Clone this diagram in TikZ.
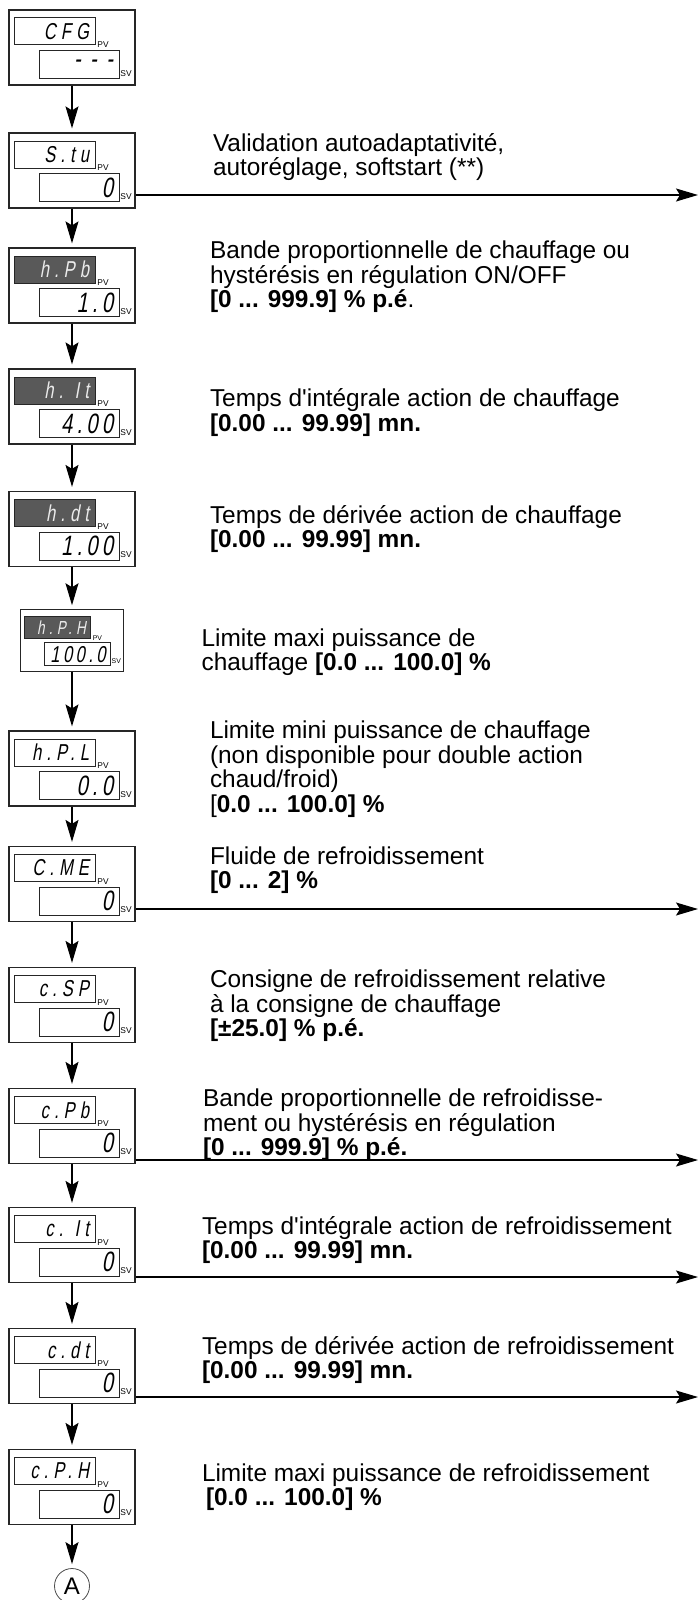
\documentclass[tikz,border=0pt]{standalone}
\usepackage{fontspec}
\setmainfont{Liberation Sans}
\newfontfamily\segfont{Liberation Sans}[FakeSlant=0.18, FakeStretch=0.72, LetterSpace=15]
\newfontfamily\pvfont{Liberation Sans}[FakeSlant=0.18, FakeStretch=0.72, LetterSpace=22]
\usetikzlibrary{arrows.meta, positioning}

\begin{document}
\begin{tikzpicture}[
		x=0.5pt, y=-0.5pt,
		% cadre de l'afficheur
		panel/.style = {draw=black!85, line width=0.6pt, minimum width=63pt, minimum height=37.5pt, inner sep=0pt},
		% petits afficheurs PV / SV
		pvdisp/.style = {draw=black!85, line width=0.5pt, text width=34.5pt, minimum height=13.5pt, inner xsep=3pt, inner ysep=0pt, align=right, font=\pvfont\fontsize{11.5}{11.5}\selectfont},
		svdisp/.style = {pvdisp, text width=34pt, minimum height=14pt, font=\segfont\fontsize{14}{14}\selectfont},
		dark/.style = {fill=black!65, text=white!92!black},
		tag/.style = {inner sep=0pt, font=\fontsize{4.2}{4.2}\selectfont},
		desc/.style = {align=left, inner sep=0pt, font=\fontsize{12.2}{12.25}\selectfont},
		circ/.style = {draw=black!70, circle, minimum size=17.5pt, inner sep=0pt, font=\fontsize{12}{12}\selectfont},
		flow/.style = {-{Stealth[length=11pt, width=6.5pt, inset=2pt]}, line width=0.6pt, shorten >=2pt},
		jump/.style = {-{Stealth[length=11pt, width=6.5pt, inset=2pt]}, line width=0.6pt},
		pics/display/.style n args = {3}{code={
			\node [panel] (-box) {};
			\node [pvdisp, #3] (-pv) at (-17.5,-16) {#1};
			\node [svdisp] (-sv) at (7,17) {#2};
			\node [tag, anchor=base west] (-pvtag) at (25,0) {PV};
			\node [tag, anchor=base west] (-svtag) at (48,28.5) {SV};
		}}
		]
		\useasboundingbox (0,0) rectangle (699,1600);
		
		% --- AFFICHEURS (colonne de gauche) ---
		\pic (cfg) at (72,47.5) {display={CFG}{- - -}{}};
		\pic (stu) at (72,170.5) {display={S.tu}{0}{}};
		\pic (hpb) at (72,285.5) {display={h.Pb}{1.0}{dark}};
		\pic (hit) at (72,406.5) {display={h. It}{4.00}{dark}};
		\pic (hdt) at (72,529) {display={h.dt}{1.00}{dark}};
		\begin{scope}[shift={(72,640.5)}, scale=0.82, transform shape]
			\pic (hph) {display={h.P.H}{100.0}{dark}};
		\end{scope}
		\pic (hpl) at (72,768.5) {display={h.P.L}{0.0}{}};
		\pic (cne) at (72,884) {display={C.ME}{0}{}};
		\pic (csp) at (72,1005) {display={c.SP}{0}{}};
		\pic (cpb) at (72,1126) {display={c.Pb}{0}{}};
		\pic (cit) at (72,1245) {display={c. It}{0}{}};
		\pic (cdt) at (72,1366) {display={c.dt}{0}{}};
		\pic (cph) at (72,1487) {display={c.P.H}{0}{}};
		\node [circ, below=21.5pt of cph-box] (a) {A};
		
		\draw [flow] (cfg-box) -- (stu-box);
		\draw [flow] (stu-box) -- (hpb-box);
		\draw [flow] (hpb-box) -- (hit-box);
		\draw [flow] (hit-box) -- (hdt-box);
		\draw [flow] (hdt-box) -- (hph-box);
		\draw [flow] (hph-box) -- (hpl-box);
		\draw [flow] (hpl-box) -- (cne-box);
		\draw [flow] (cne-box) -- (csp-box);
		\draw [flow] (csp-box) -- (cpb-box);
		\draw [flow] (cpb-box) -- (cit-box);
		\draw [flow] (cit-box) -- (cdt-box);
		\draw [flow] (cdt-box) -- (cph-box);
		\draw [flow] (cph-box) -- (a);
		
		% --- SORTIES VERS LA DROITE ---
		\coordinate (stu-end) at (698,195);
		\coordinate (cne-end) at (698,909);
		\coordinate (cpb-end) at (698,1160);
		\coordinate (cit-end) at (698,1277);
		\coordinate (cdt-end) at (698,1397);
		\draw [jump] (stu-box.east |- stu-end) -- (stu-end);
		\draw [jump] (cne-box.east |- cne-end) -- (cne-end);
		\draw [jump] (cpb-box.east |- cpb-end) -- (cpb-end);
		\draw [jump] (cit-box.east |- cit-end) -- (cit-end);
		\draw [jump] (cdt-box.east |- cdt-end) -- (cdt-end);
		
		% --- TEXTES ---
		\node [desc, right=38.5pt of stu-box, yshift=6.75pt] (stu-txt) {Validation autoadaptativité,\\autoréglage, softstart (**)};
		\node [desc, right=37pt of hpb-box, yshift=4.25pt] (hpb-txt) {Bande proportionnelle de chauffage ou\\hystérésis en régulation ON/OFF\\\textbf{[0 ... 999.9] \% p.é}.};
		\node [desc, right=37pt of hit-box, yshift=-3pt] (hit-txt) {Temps d\textquotesingle intégrale action de chauffage\\\textbf{[0.00 ... 99.99] mn.}};
		\node [desc, right=37pt of hdt-box] (hdt-txt) {Temps de dérivée action de chauffage\\\textbf{[0.00 ... 99.99] mn.}};
		\node [desc, right=38.5pt of hph-box, yshift=-5.75pt] (hph-txt) {Limite maxi puissance de\\chauffage \textbf{[0.0 ... 100.0] \%}};
		\node [desc, right=37pt of hpl-box, yshift=-0.25pt] (hpl-txt) {Limite mini puissance de chauffage\\(non disponible pour double action\\chaud/froid)\\{[}\textbf{0.0 ... 100.0] \%}};
		\node [desc, right=37pt of cne-box, yshift=7pt] (cne-txt) {Fluide de refroidissement\\\textbf{[0 ... 2] \%}};
		\node [desc, right=37pt of csp-box, yshift=-0.5pt] (csp-txt) {Consigne de refroidissement relative\\à la consigne de chauffage\\\textbf{[±25.0] \% p.é.}};
		\node [desc, right=33.5pt of cpb-box, yshift=0.5pt] (cpb-txt) {Bande proportionnelle de refroidisse-\\ment ou hystérésis en régulation\\\textbf{[0 ... 999.9] \% p.é.}};
		\node [desc, right=33pt of cit-box, yshift=2.5pt] (cit-txt) {Temps d\textquotesingle intégrale action de refroidissement\\\textbf{[0.00 ... 99.99] mn.}};
		\node [desc, right=33pt of cdt-box, yshift=3pt] (cdt-txt) {Temps de dérivée action de refroidissement\\\textbf{[0.00 ... 99.99] mn.}};
		\node [desc, right=33pt of cph-box] (cph-txt) {Limite maxi puissance de refroidissement\\\hspace*{2pt}\textbf{[0.0 ... 100.0] \%}};
		
	\end{tikzpicture}
\end{document}
